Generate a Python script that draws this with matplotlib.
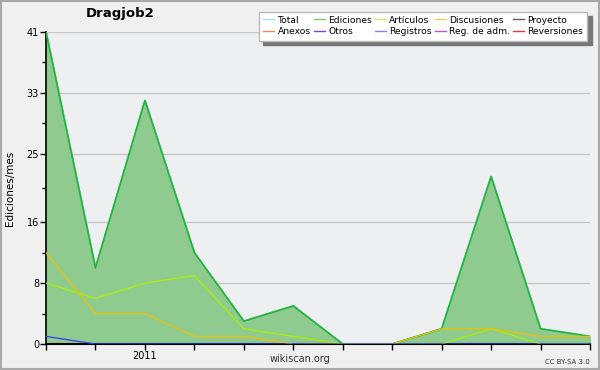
import numpy as np
import matplotlib.pyplot as plt
from matplotlib.patches import Rectangle

# datos mensuales (nov 2010 ... oct 2011)
meses = list(range(12))
etiquetas_x = ['', '', '2011', '', '', '', '', '', '', '', '', '']
total = [41, 10, 32, 12, 3, 5, 0, 0, 2, 22, 2, 1]
ediciones = [41, 10, 32, 12, 3, 5, 0, 0, 2, 22, 2, 1]
articulos = [8, 6, 8, 9, 2, 1, 0, 0, 0, 2, 0, 0]
discusiones = [12, 4, 4, 1, 1, 0, 0, 0, 2, 2, 1, 1]
registros = [1, 0, 0, 0, 0, 0, 0, 0, 0, 0, 0, 0]
yticks = [0, 8, 16, 25, 33, 41]

leyenda = [('Total', '#a8e0e0'), ('Anexos', '#f08850'),
           ('Ediciones', '#80c880'), ('Otros', '#8040c8'),
           ('Artículos', '#c8ec60'), ('Registros', '#8080f0'),
           ('Discusiones', '#f8cc60'), ('Reg. de adm.', '#c850d0'),
           ('Proyecto', '#606060'), ('Reversiones', '#e83838')]

plt.rcParams['font.family'] = ['DejaVu Sans']

fig = plt.figure(figsize=(6, 3.7), dpi=100, facecolor='#f0f0f0')
ax = fig.add_axes([46/600, 1-344/370, 544/600, 312/370])
ax.set_facecolor('#eeeff1')

# marco exterior
fig.patches.append(Rectangle((0.001, 0.002), 0.997, 0.995, transform=fig.transFigure,
                             fill=False, edgecolor='#aaaaaa', lw=1.5))

ax.plot(meses, total, color='#40e0e0', lw=1.3, zorder=2)
ax.fill_between(meses, ediciones, 0, color='#8fcb8f', zorder=1)
ax.plot(meses, ediciones, color='#30b030', lw=1.2, zorder=3)
ax.plot(meses, articulos, color='#aaee00', lw=0.9, zorder=4)
ax.plot(meses, discusiones, color='#f0c000', lw=0.9, zorder=4)
ax.plot(meses, registros, color='#3040f0', lw=0.9, zorder=4)

ax.set_xlim(0, 11)
ax.set_ylim(0, 41)
ax.set_yticks(yticks)
ax.set_yticks([4, 12, 20.5, 29, 37], minor=True)
ax.set_xticks(meses)
ax.set_xticklabels(etiquetas_x)
ax.grid(axis='y', color='#c8c8c8', lw=1, zorder=0)
ax.set_axisbelow(True)
for s in ['top', 'right']:
    ax.spines[s].set_visible(False)
ax.spines['left'].set_linewidth(1.2)
ax.spines['bottom'].set_linewidth(1.5)
ax.tick_params(axis='both', labelsize=7, length=4, width=1, pad=1, color='black')
ax.tick_params(axis='y', which='minor', length=3, width=1)

fig.text(10/600, 1-188/370, 'Ediciones/mes', fontsize=7.5, rotation=90, ha='center', va='center')
fig.text(120/600, 1-14/370, 'Dragjob2', fontsize=9.5, fontweight='bold', ha='center', va='center')
fig.text(300/600, 1-359/370, 'wikiscan.org', fontsize=7, ha='center', va='center', color='#333333')
fig.text(590/600, 1-362/370, 'CC BY-SA 3.0', fontsize=5, ha='right', va='center', color='#333333')

handles = [plt.Line2D([], [], color=c, lw=1) for _, c in leyenda]
labels = [n for n, _ in leyenda]
leg = fig.legend(handles, labels, ncol=5, loc='upper right', bbox_to_anchor=(592/600, 1-7/370),
                 fontsize=6.6, frameon=True, fancybox=False,
                 shadow={'color': '#777777', 'alpha': 1, 'ox': 3, 'oy': -3},
                 handlelength=1.2, handletextpad=0.35, columnspacing=0.35, labelspacing=0.3,
                 borderpad=0.45, edgecolor='#bbbbbb')
leg.get_frame().set_facecolor('white')
leg.get_frame().set_alpha(1)

fig.savefig('out.png', dpi=100, facecolor=fig.get_facecolor())
